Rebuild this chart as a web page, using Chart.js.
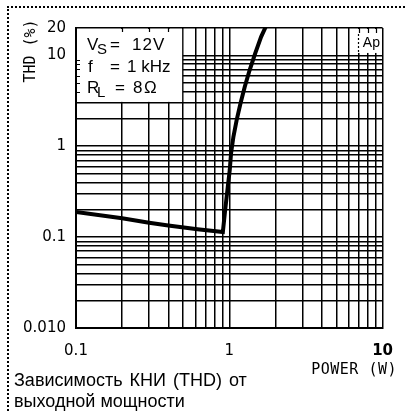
<!DOCTYPE html>
<html>
<head>
<meta charset="utf-8">
<script src="https://cdn.jsdelivr.net/npm/chart.js@4.4.1/dist/chart.umd.min.js"></script>
<style>
  html, body { margin: 0; padding: 0; background: #fff; }
  #wrap { position: relative; width: 407px; height: 411px; overflow: hidden; }
  #frame { position: absolute; left: 7px; top: 6px; width: 400px; height: 410px;
           border-top: 2px dotted #000; border-left: 2px dotted #000; }
  #thdChart { position: absolute; left: 0; top: 0; }
  #caption { position: absolute; left: 14px; top: 370px; color: #000;
             font: 18px "Liberation Sans", Arial, sans-serif; line-height: 21px; }
  #caption .l1 { word-spacing: 2px; }
</style>
</head>
<body>
<div id="wrap">
  <div id="frame"></div>
  <canvas id="thdChart" width="407" height="411"></canvas>
  <div id="caption"><span class="l1">Зависимость КНИ (THD) от</span><br>выходной мощности</div>
</div>
<script>
// THD vs output power
const powerW = [0.1, 0.2, 0.3, 0.4, 0.62, 0.908, 0.94, 0.978, 1.007, 1.027, 1.064, 1.117, 1.184, 1.262, 1.358, 1.476, 1.613, 1.71, 1.75];
const thdPct = [0.189, 0.161, 0.144, 0.134, 0.122, 0.114, 0.199, 0.358, 0.547, 0.836, 1.27, 1.94, 2.97, 4.52, 6.89, 10.5, 16.0, 19.8, 21.5];

// grid lines (log paper)
const powerGrid = [0.1, 0.2, 0.3, 0.4, 0.5, 0.6, 0.7, 0.8, 0.9, 1, 2, 3, 4, 5, 6, 7, 8, 9, 10];
const thdGrid = [0.01, 0.02, 0.03, 0.04, 0.05, 0.06, 0.07, 0.08, 0.09,
                 0.1, 0.2, 0.3, 0.4, 0.5, 0.6, 0.7, 0.8, 0.9,
                 1, 2, 3, 4, 5, 6, 7, 8, 9, 10, 20];

// labelled ticks
const powerTickValues = [0.1, 1, 10];
const powerTickLabels = ['0.1', '1', '10'];
const thdTickValues = [0.01, 0.1, 1, 10, 20];
const thdTickLabels = ['0.010', '0.1', '1', '10', '20'];

function labelFor(values, labels, v) {
    const i = values.findIndex(t => Math.abs(t - v) < 1e-9);
    return i >= 0 ? labels[i] : '';
}

const SANS = '"Liberation Sans", Arial, sans-serif';
const MONO = '"DejaVu Sans Mono", "Liberation Mono", monospace';

// white boxes, conditions text and axis titles
const decorPlugin = {
    id: 'decor',
    beforeDatasetsDraw(chart) {
        const {ctx, chartArea, scales: {x, y}} = chart;
        const left = chartArea.left, top = chartArea.top, right = chartArea.right;
        ctx.save();

        // conditions box (covers 0.1..0.5 W, 3..20 %)
        const bx = x.getPixelForValue(0.5);
        const by = y.getPixelForValue(3);
        ctx.fillStyle = '#fff';
        ctx.fillRect(left + 1, top + 1, bx - left - 2, by - top - 2);

        ctx.strokeStyle = '#000';
        ctx.lineWidth = 1.2;
        ctx.beginPath();
        [4, 5, 6, 7, 8, 9].forEach(v => {
            const py = Math.round(y.getPixelForValue(v)) + 0.5;
            ctx.moveTo(left, py); ctx.lineTo(left + 4, py);
        });
        [0.2, 0.3, 0.4].forEach(v => {
            const px = Math.round(x.getPixelForValue(v)) + 0.5;
            ctx.moveTo(px, top); ctx.lineTo(px, top + 4);
        });
        ctx.stroke();

        ctx.fillStyle = '#000';
        ctx.textBaseline = 'alphabetic';
        ctx.textAlign = 'left';
        ctx.font = '17px ' + SANS;
        ctx.fillText('V', left + 11, top + 22);
        ctx.fillText('=', left + 34, top + 22);
        ctx.letterSpacing = '1px';
        ctx.fillText('12V', left + 56, top + 22);
        ctx.letterSpacing = '0px';
        ctx.fillText('f', left + 12, top + 44);
        ctx.fillText('=', left + 34, top + 44);
        ctx.fillText('1 kHz', left + 51, top + 44);
        ctx.fillText('R', left + 11, top + 65);
        ctx.fillText('=', left + 39, top + 65);
        ctx.fillText('8', left + 57, top + 65);
        ctx.fillText('\u03A9', left + 68, top + 65);
        ctx.font = '15px ' + SANS;
        ctx.fillText('S', left + 21, top + 26);
        ctx.fillText('L', left + 21, top + 69);

        // "Ap" box in the top right corner
        const ax = x.getPixelForValue(7);
        const ab = y.getPixelForValue(10.9);
        ctx.fillStyle = '#fff';
        ctx.fillRect(ax - 1, top + 1, right - ax, ab - top);
        ctx.beginPath();
        [7, 8, 9].forEach(v => {
            const px = Math.round(x.getPixelForValue(v)) + 0.5;
            ctx.moveTo(px, top); ctx.lineTo(px, top + 5);
        });
        ctx.lineWidth = 1.2;
        ctx.stroke();
        ctx.beginPath();
        ctx.setLineDash([2, 2]);
        ctx.moveTo(Math.round(ax) - 0.5, top + 6);
        ctx.lineTo(Math.round(ax) - 0.5, ab);
        ctx.stroke();
        ctx.setLineDash([]);
        ctx.fillStyle = '#000';
        ctx.font = '14px ' + SANS;
        ctx.fillText('Ap', ax + 4, top + 19);

        ctx.restore();
    },
    afterDraw(chart) {
        const {ctx} = chart;
        ctx.save();
        ctx.fillStyle = '#000';
        ctx.font = '15px ' + MONO;
        ctx.textBaseline = 'middle';
        ctx.textAlign = 'center';
        ctx.translate(31, 51);
        ctx.rotate(-Math.PI / 2);
        ctx.fillText('THD (%)', 0, 0);
        ctx.restore();

        ctx.save();
        ctx.fillStyle = '#000';
        ctx.font = '15px ' + MONO;
        ctx.textBaseline = 'alphabetic';
        ctx.textAlign = 'right';
        ctx.letterSpacing = '0.5px';
        ctx.fillText('POWER (W)', 397, 374);
        ctx.restore();
    }
};

const tickFont = {family: '"DejaVu Sans", sans-serif', size: 15};

const config = {
    type: 'line',
    data: {
        datasets: [{
            data: powerW.map((p, i) => ({x: p, y: thdPct[i]})),
            borderColor: '#000',
            borderWidth: 4,
            pointRadius: 0,
            tension: 0,
            fill: false
        }]
    },
    options: {
        responsive: false,
        animation: false,
        layout: {padding: {top: 28, right: 18, left: 0, bottom: 0}},
        plugins: {
            legend: {display: false},
            tooltip: {enabled: false}
        },
        scales: {
            x: {
                type: 'logarithmic',
                min: 0.1,
                max: 10,
                afterBuildTicks: s => { s.ticks = powerGrid.map(v => ({value: v})); },
                afterFit: s => { s.height = 83; },
                grid: {color: '#000', lineWidth: 1.5, drawTicks: false},
                border: {color: '#000', width: 2},
                ticks: {
                    autoSkip: false,
                    maxRotation: 0,
                    padding: 14,
                    color: '#000',
                    font: c => (c.tick && c.tick.value === 10)
                        ? Object.assign({}, tickFont, {weight: 'bold'}) : tickFont,
                    callback: v => labelFor(powerTickValues, powerTickLabels, v)
                }
            },
            y: {
                type: 'logarithmic',
                min: 0.01,
                max: 20,
                afterBuildTicks: s => { s.ticks = thdGrid.map(v => ({value: v})); },
                afterFit: s => { s.width = 76; },
                grid: {color: '#000', lineWidth: 1.5, drawTicks: false},
                border: {color: '#000', width: 2},
                ticks: {
                    autoSkip: false,
                    padding: 10,
                    color: '#000',
                    font: tickFont,
                    callback: v => labelFor(thdTickValues, thdTickLabels, v)
                }
            }
        }
    },
    plugins: [decorPlugin]
};

new Chart(document.getElementById('thdChart'), config);
</script>
</body>
</html>
